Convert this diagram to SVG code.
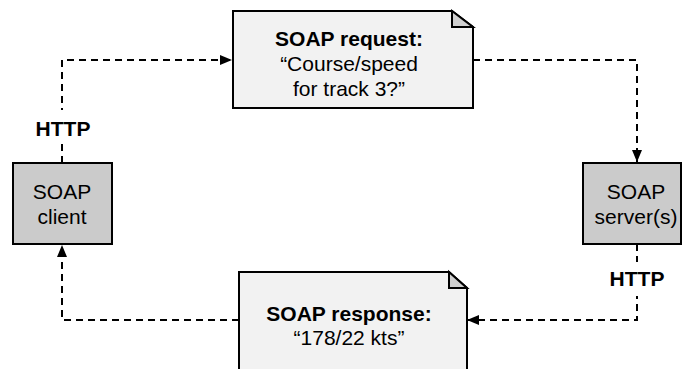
<svg xmlns="http://www.w3.org/2000/svg" width="683" height="369" viewBox="0 0 683 369">
<style>
.box{fill:#cbcbcb;stroke:#000;stroke-width:2}
.note{fill:#f2f2f2;stroke:#000;stroke-width:2;stroke-linejoin:miter}
.fold{fill:#d0d0d0;stroke:#000;stroke-width:2}
.t{font-family:"Liberation Sans",Arial,Helvetica,sans-serif;font-size:21px;fill:#000;text-anchor:middle}
.b{font-weight:bold}
.c{fill:none;stroke:#000;stroke-width:2;stroke-dasharray:7 5}
</style>
<defs>
<marker id="ah" markerUnits="userSpaceOnUse" markerWidth="12" markerHeight="10" refX="12" refY="5" orient="auto">
<path d="M0,0 L12,5 L0,10 Z" fill="#000"/>
</marker>
</defs>
<rect width="683" height="369" fill="#fff"/>
<g id="connectors">
<path class="c" d="M62,163 V60 H232" marker-end="url(#ah)"/>
<path class="c" d="M473,60 H637 V162" marker-end="url(#ah)"/>
<path class="c" d="M637,244 V320 H467" marker-end="url(#ah)"/>
<path class="c" d="M239,320 H62 V245" marker-end="url(#ah)"/>
<rect x="30" y="110" width="66" height="33" fill="#fff"/>
<text class="t b" x="63" y="136">HTTP</text>
<rect x="605" y="262" width="66" height="34" fill="#fff"/>
<text class="t b" x="637" y="286">HTTP</text>
</g>
<g id="client">
<rect class="box" x="13" y="163" width="99" height="81"/>
<text class="t" x="62" y="199">SOAP</text>
<text class="t" x="62" y="224">client</text>
</g>
<g id="server">
<rect class="box" x="583" y="163" width="98" height="81"/>
<text class="t" x="636" y="199">SOAP</text>
<text class="t" x="636" y="224">server(s)</text>
</g>
<g id="request">
<path class="note" d="M233,11 H452 L473,27 V108 H233 Z"/>
<path class="fold" d="M452,11 V27 H473 Z"/>
<text class="t b" x="349" y="46">SOAP request:</text>
<text class="t" x="349" y="71">“Course/speed</text>
<text class="t" x="349" y="96">for track 3?”</text>
</g>
<g id="response">
<path class="note" d="M239,272 H449 L467,288 V372 H239 Z"/>
<path class="fold" d="M449,272 V288 H467 Z"/>
<text class="t b" x="349" y="321">SOAP response:</text>
<text class="t" x="349" y="345">“178/22 kts”</text>
</g>
</svg>
